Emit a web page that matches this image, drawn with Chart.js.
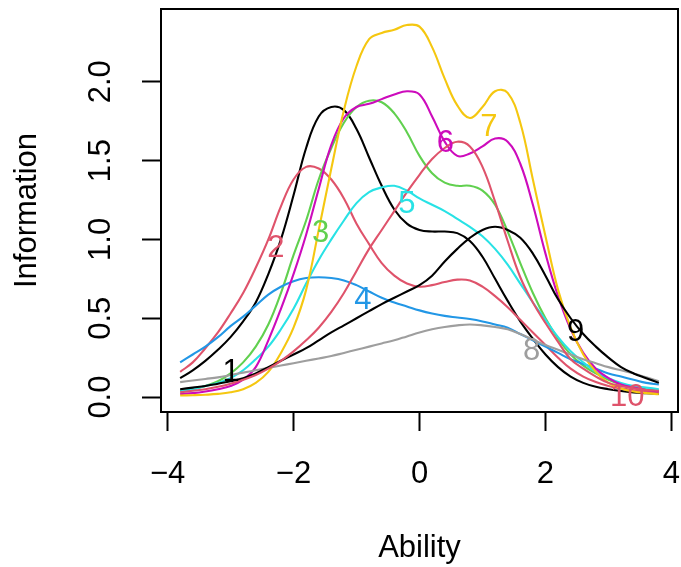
<!DOCTYPE html>
<html>
<head>
<meta charset="utf-8">
<script src="https://cdn.jsdelivr.net/npm/chart.js@4"></script>
<style>
  html, body { margin: 0; padding: 0; background: #fff; }
</style>
</head>
<body>
<canvas id="info_chart" width="681" height="567"></canvas>
<script>
// ability grid (theta) and item information per item
const ability = [-3.8, -3.6, -3.4, -3.2, -3.0, -2.8, -2.6, -2.4, -2.2, -2.0,
  -1.8, -1.6, -1.4, -1.2, -1.0, -0.8, -0.6, -0.4, -0.2, 0.0,
  0.2, 0.4, 0.6, 0.8, 1.0, 1.2, 1.4, 1.6, 1.8, 2.0,
  2.2, 2.4, 2.6, 2.8, 3.0, 3.2, 3.4, 3.6, 3.8];

const item1 = [0.12, 0.17, 0.23, 0.30, 0.38, 0.48, 0.60, 0.78, 1.00, 1.28, 1.58, 1.78, 1.84, 1.82, 1.70, 1.52, 1.34, 1.19, 1.10, 1.06,
  1.05, 1.05, 1.04, 0.99, 0.89, 0.75, 0.61, 0.48, 0.37, 0.27, 0.19, 0.13, 0.09, 0.065, 0.05, 0.038, 0.03, 0.025, 0.02];
const item2 = [0.16, 0.22, 0.31, 0.41, 0.53, 0.66, 0.82, 1.00, 1.21, 1.38, 1.46, 1.45, 1.38, 1.26, 1.10, 0.97, 0.85, 0.77, 0.72, 0.70,
  0.71, 0.73, 0.745, 0.74, 0.70, 0.64, 0.57, 0.49, 0.41, 0.33, 0.25, 0.18, 0.13, 0.095, 0.07, 0.055, 0.043, 0.035, 0.028];
const item3 = [0.04, 0.05, 0.07, 0.10, 0.15, 0.22, 0.32, 0.46, 0.66, 0.90, 1.12, 1.38, 1.58, 1.74, 1.84, 1.88, 1.87, 1.80, 1.68, 1.53,
  1.42, 1.36, 1.34, 1.34, 1.31, 1.22, 1.05, 0.85, 0.66, 0.50, 0.37, 0.27, 0.20, 0.15, 0.11, 0.08, 0.06, 0.05, 0.04];
const item4 = [0.22, 0.27, 0.32, 0.38, 0.45, 0.51, 0.58, 0.65, 0.70, 0.735, 0.755, 0.76, 0.755, 0.74, 0.71, 0.67, 0.63, 0.60, 0.575, 0.55,
  0.53, 0.515, 0.505, 0.495, 0.48, 0.46, 0.44, 0.40, 0.36, 0.32, 0.28, 0.24, 0.21, 0.18, 0.15, 0.13, 0.11, 0.09, 0.08];
const item5 = [0.04, 0.05, 0.07, 0.09, 0.12, 0.17, 0.24, 0.32, 0.43, 0.56, 0.72, 0.87, 1.00, 1.12, 1.23, 1.30, 1.33, 1.34, 1.31, 1.26,
  1.22, 1.18, 1.13, 1.08, 1.02, 0.94, 0.84, 0.72, 0.60, 0.49, 0.38, 0.29, 0.22, 0.16, 0.12, 0.09, 0.07, 0.06, 0.05];
const item6 = [0.02, 0.025, 0.035, 0.05, 0.07, 0.11, 0.19, 0.36, 0.56, 0.78, 1.03, 1.32, 1.60, 1.77, 1.84, 1.86, 1.89, 1.92, 1.94, 1.92,
  1.78, 1.62, 1.53, 1.545, 1.59, 1.64, 1.62, 1.48, 1.22, 0.91, 0.64, 0.43, 0.28, 0.18, 0.12, 0.08, 0.06, 0.045, 0.035];
const item7 = [0.01, 0.012, 0.015, 0.02, 0.03, 0.05, 0.09, 0.16, 0.28, 0.44, 0.68, 1.06, 1.45, 1.82, 2.10, 2.27, 2.31, 2.33, 2.36, 2.35,
  2.22, 2.02, 1.85, 1.77, 1.84, 1.94, 1.93, 1.74, 1.38, 1.02, 0.68, 0.44, 0.27, 0.16, 0.09, 0.055, 0.035, 0.025, 0.018];
const item8 = [0.095, 0.105, 0.115, 0.125, 0.14, 0.155, 0.17, 0.185, 0.20, 0.215, 0.23, 0.245, 0.26, 0.28, 0.30, 0.32, 0.34, 0.36, 0.385, 0.41,
  0.43, 0.445, 0.455, 0.46, 0.455, 0.445, 0.43, 0.40, 0.365, 0.33, 0.30, 0.27, 0.24, 0.215, 0.19, 0.17, 0.15, 0.125, 0.10];
const item9 = [0.05, 0.06, 0.07, 0.085, 0.10, 0.12, 0.15, 0.19, 0.23, 0.27, 0.31, 0.36, 0.41, 0.455, 0.50, 0.545, 0.59, 0.63, 0.67, 0.71,
  0.77, 0.86, 0.94, 1.01, 1.06, 1.08, 1.06, 1.01, 0.91, 0.77, 0.62, 0.50, 0.40, 0.32, 0.25, 0.19, 0.15, 0.12, 0.09];
const item10 = [0.03, 0.04, 0.05, 0.065, 0.085, 0.11, 0.14, 0.18, 0.23, 0.29, 0.36, 0.44, 0.54, 0.66, 0.80, 0.94, 1.06, 1.18, 1.30, 1.41,
  1.51, 1.58, 1.62, 1.59, 1.46, 1.24, 0.99, 0.76, 0.60, 0.47, 0.35, 0.24, 0.18, 0.13, 0.09, 0.07, 0.055, 0.045, 0.04];

const itemNames = ["1", "2", "3", "4", "5", "6", "7", "8", "9", "10"];
const itemColors = ["#000000", "#DF536B", "#61D04F", "#2297E6", "#28E2E5",
  "#CD0BBC", "#F5C710", "#9E9E9E", "#000000", "#DF536B"];
// where each item number is written on the plot (ability, information)
const labelX = [-2.99, -2.28, -1.57, -0.90, -0.20, 0.41, 1.10, 1.78, 2.48, 3.30];
const labelY = [0.156, 0.94, 1.04, 0.61, 1.22, 1.61, 1.71, 0.29, 0.41, 0.0];

const xTicks = [-4, -2, 0, 2, 4];
const yTicks = [0, 0.5, 1, 1.5, 2];

const items = [item1, item2, item3, item4, item5, item6, item7, item8, item9, item10];
const fontFamily = '"Liberation Sans", Arial, Helvetica, sans-serif';
const bigFont = { family: fontFamily, size: 31 };

const datasets = items.map(function(vals, i) {
  return {
    label: itemNames[i],
    data: vals.map(function(v, j) { return { x: ability[j], y: v }; }),
    borderColor: itemColors[i],
    borderWidth: 2.1,
    pointRadius: 0,
    fill: false,
    tension: 0.4,
    order: items.length - i
  };
});

// no extra room for overhanging tick labels, the plot region is fixed
function noScalePadding(s) {
  s.paddingLeft = 0; s.paddingRight = 0; s.paddingTop = 0; s.paddingBottom = 0;
}

// item numbers written on the curves
const itemLabelPlugin = {
  id: "itemLabels",
  afterDatasetsDraw(chart) {
    const ctx = chart.ctx;
    const xs = chart.scales.x, ys = chart.scales.y;
    ctx.save();
    ctx.font = "31px " + fontFamily;
    ctx.textAlign = "center";
    ctx.textBaseline = "middle";
    for (let i = 0; i < itemNames.length; i++) {
      ctx.fillStyle = itemColors[i];
      ctx.fillText(itemNames[i], xs.getPixelForValue(labelX[i]), ys.getPixelForValue(labelY[i]));
    }
    ctx.restore();
  }
};

// base R style box round the plot region
const boxPlugin = {
  id: "plotBox",
  afterDraw(chart) {
    const a = chart.chartArea;
    const ctx = chart.ctx;
    ctx.save();
    ctx.strokeStyle = "#000";
    ctx.lineWidth = 2;
    ctx.strokeRect(a.left, a.top, a.right - a.left, a.bottom - a.top);
    ctx.restore();
  }
};

const info_ctx = document.getElementById("info_chart");
const info_chart = new Chart(info_ctx, {
  type: "line",
  data: { datasets: datasets },
  options: {
    responsive: false,
    animation: false,
    devicePixelRatio: 1,
    layout: { padding: { top: 9, right: 3, left: 0, bottom: 0 } },
    plugins: { legend: { display: false }, tooltip: { enabled: false } },
    scales: {
      x: {
        type: "linear",
        min: -4.104,
        max: 4.104,
        afterBuildTicks: function(s) { s.ticks = xTicks.map(function(v) { return { value: v }; }); },
        afterFit: function(s) { s.height = 155; noScalePadding(s); },
        border: { display: false },
        grid: { drawOnChartArea: false, drawTicks: true, tickLength: 19, tickWidth: 2, tickColor: "#000" },
        ticks: {
          color: "#000", font: bigFont, padding: 25, autoSkip: false, maxRotation: 0, minRotation: 0,
          callback: function(v) { return v < 0 ? "\u2212" + Math.abs(v) : String(v); }
        },
        title: { display: true, text: "Ability", color: "#000", font: bigFont, padding: { top: 0, bottom: 0 } }
      },
      y: {
        type: "linear",
        min: -0.0947,
        max: 2.4617,
        afterBuildTicks: function(s) { s.ticks = yTicks.map(function(v) { return { value: v }; }); },
        afterFit: function(s) { s.width = 161; noScalePadding(s); },
        border: { display: false },
        grid: { drawOnChartArea: false, drawTicks: true, tickLength: 19, tickWidth: 2, tickColor: "#000" },
        ticks: {
          color: "#000", font: bigFont, padding: 19, autoSkip: false, minRotation: 90, maxRotation: 90,
          crossAlign: "center",
          callback: function(v) { return v.toFixed(1); }
        },
        title: { display: true, text: "Information", color: "#000", font: bigFont, padding: { top: 9, bottom: 0 } }
      }
    }
  },
  plugins: [itemLabelPlugin, boxPlugin]
});
</script>
</body>
</html>
